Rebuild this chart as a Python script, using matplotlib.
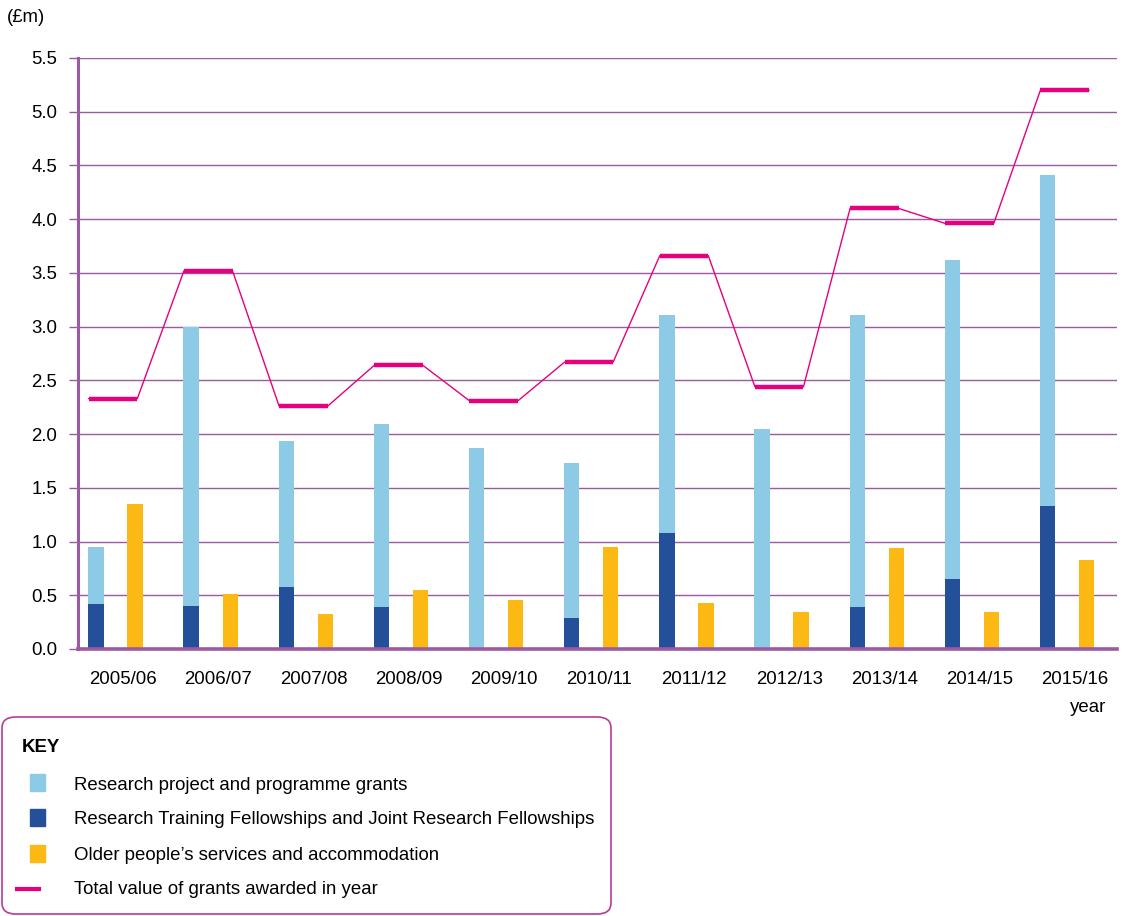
import matplotlib.pyplot as plt
from matplotlib.patches import FancyBboxPatch, Rectangle
from matplotlib.lines import Line2D
import numpy as np

plt.rcParams['font.family'] = ['Liberation Sans', 'DejaVu Sans']

years = ["2005/06", "2006/07", "2007/08", "2008/09", "2009/10", "2010/11",
         "2011/12", "2012/13", "2013/14", "2014/15", "2015/16"]
fellowships = [0.42, 0.40, 0.58, 0.39, 0.0, 0.29, 1.08, 0.0, 0.39, 0.65, 1.33]
project_grants = [0.53, 2.60, 1.36, 1.70, 1.87, 1.44, 2.03, 2.05, 2.72, 2.97, 3.08]
older_people = [1.35, 0.51, 0.33, 0.55, 0.46, 0.95, 0.43, 0.34, 0.94, 0.34, 0.83]
total = [2.33, 3.52, 2.26, 2.64, 2.31, 2.67, 3.66, 2.44, 4.10, 3.96, 5.20]

c_light = "#8ccae6"
c_dark = "#244f99"
c_orange = "#fdb913"
c_pink = "#e6007e"
c_grid = "#9b5aa3"
fs = 13.4

fig = plt.figure(figsize=(11.25, 9.16), dpi=100)
ax = fig.add_axes([0.0693, 0.2915, 0.9236, 0.6452])

x = np.arange(len(years))
w = 0.16
off = 0.205
ax.bar(x - off, fellowships, w, color=c_dark, zorder=3)
ax.bar(x - off, project_grants, w, bottom=fellowships, color=c_light, zorder=3)
ax.bar(x + off, older_people, w, color=c_orange, zorder=3)

# total line: flat segment per year joined by thin line
px, py = [], []
for i, t in enumerate(total):
    px += [i - 0.28, i + 0.23]
    py += [t, t]
ax.plot(px, py, color=c_pink, lw=1.0, zorder=4)
for i, t in enumerate(total):
    ax.plot([i - 0.28, i + 0.23], [t, t], color=c_pink, lw=3.2,
            solid_capstyle='butt', zorder=5)

ax.set_xlim(-0.394, 10.525)
ax.set_ylim(0, 5.5)
ax.set_yticks(np.arange(0, 5.51, 0.5))
ax.set_yticklabels([f"{v:.1f}" for v in np.arange(0, 5.51, 0.5)], fontsize=fs)
ax.set_xticks(x + 0.08)
ax.set_xticklabels(years, fontsize=fs)
ax.tick_params(axis='x', length=0, pad=16)
ax.tick_params(axis='y', length=6.5, width=1, color=c_grid, pad=8.5)
ax.grid(axis='y', color=c_grid, lw=1, zorder=1)
for s in ['top', 'right']:
    ax.spines[s].set_visible(False)
ax.spines['left'].set_color(c_grid)
ax.spines['left'].set_linewidth(2.2)
ax.spines['bottom'].set_color(c_grid)
ax.spines['bottom'].set_linewidth(2.6)
ax.spines['bottom'].set_zorder(6)

fig.text(26 / 1125, 1 - 18 / 916, "(£m)", fontsize=fs, ha='center', va='center')
fig.text(1088 / 1125, 1 - 708 / 916, "year", fontsize=fs, ha='center', va='center')

# key box
W, H = 1125, 916
box = FancyBboxPatch((2 / W, 1 - 914 / H), 609 / W, 197 / H,
                     boxstyle="round,pad=0,rounding_size=0.012",
                     transform=fig.transFigure, fc='white', ec="#b83a9e", lw=1.2)
fig.patches.append(box)
fig.text(22 / W, 1 - 748 / H, "KEY", fontsize=fs, fontweight='bold', va='center')
items = [(c_light, "Research project and programme grants", 783),
         (c_dark, "Research Training Fellowships and Joint Research Fellowships", 818),
         (c_orange, "Older people\u2019s services and accommodation", 854)]
for col, lab, yy in items:
    fig.patches.append(Rectangle((30 / W, 1 - (yy + 8) / H), 15 / W, 17 / H,
                                 transform=fig.transFigure, color=col))
    fig.text(74 / W, 1 - (yy + 2) / H, lab, fontsize=fs, va='center')
fig.lines.append(Line2D([17 / W, 39 / W], [1 - 889 / H, 1 - 889 / H],
                        transform=fig.transFigure, color=c_pink, lw=3))
fig.text(74 / W, 1 - 890 / H, "Total value of grants awarded in year", fontsize=fs, va='center')

fig.savefig("out.png", dpi=100)
